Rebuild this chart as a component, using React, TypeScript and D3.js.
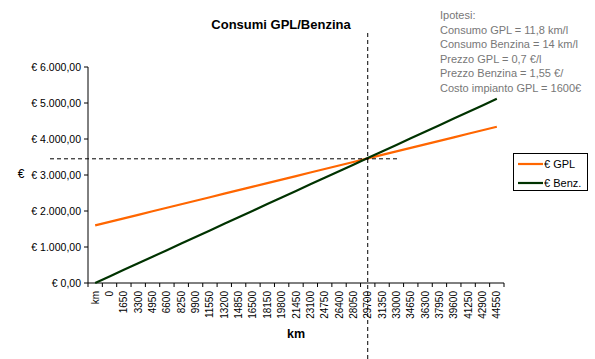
import React from "react";
import * as d3 from "d3";

const W = 595;
const H = 359;

const categories: string[] = [
  "km", "0", "1650", "3300", "4950", "6600", "8250", "9900", "11550", "13200",
  "14850", "16500", "18150", "19800", "21450", "23100", "24750", "26400", "28050",
  "29700", "31350", "33000", "34650", "36300", "37950", "39600", "41250", "42900", "44550",
];

const gplValues: number[] = [
  1600, 1698, 1796, 1894, 1992, 2089, 2187, 2285, 2383, 2481,
  2579, 2677, 2775, 2872, 2970, 3068, 3166, 3264, 3362, 3460,
  3558, 3655, 3753, 3851, 3949, 4047, 4145, 4243, 4341,
];

const benzValues: number[] = [
  0, 183, 365, 548, 731, 913, 1096, 1279, 1461, 1644,
  1827, 2009, 2192, 2375, 2557, 2740, 2923, 3106, 3288, 3471,
  3654, 3836, 4019, 4202, 4384, 4567, 4750, 4932, 5115,
];

const yTicks: number[] = [0, 1000, 2000, 3000, 4000, 5000, 6000];

const breakEvenCategory = "29700";
const breakEvenValue = 3450;

const notes: string[] = [
  "Ipotesi:",
  "Consumo GPL = 11,8 km/l",
  "Consumo Benzina = 14 km/l",
  "Prezzo GPL = 0,7 €/l",
  "Prezzo Benzina = 1,55 €/",
  "Costo impianto GPL = 1600€",
];

const series = [
  { name: "€ GPL", values: gplValues, color: "#FF6600" },
  { name: "€ Benz.", values: benzValues, color: "#003300" },
];

const fmt = (v: number) => {
  const s = v.toFixed(2).replace(".", ",");
  const [int, dec] = s.split(",");
  const withDots = int.replace(/\B(?=(\d{3})+(?!\d))/g, ".");
  return "€ " + withDots + "," + dec;
};

export default function App() {
  const x = d3.scaleBand<string>().domain(categories).range([88, 504]).padding(0);
  const y = d3.scaleLinear().domain([0, 6000]).range([283, 67]);
  const cx = (i: number) => (x(categories[i]) as number) + x.bandwidth() / 2;

  const line = (vals: number[]) =>
    d3
      .line<number>()
      .x((_, i) => cx(i))
      .y((d) => y(d))(vals) as string;

  const font = "'Liberation Sans', Arial, sans-serif";
  const beX = (x(breakEvenCategory) as number) + x.bandwidth() / 2;
  const beY = y(breakEvenValue);

  return (
    <svg
      width={W}
      height={H}
      style={{ position: "absolute", left: 0, top: 0, background: "#fff" }}
      fontFamily={font}
    >
      <rect x={0} y={0} width={W} height={H} fill="#fff" />
      <text x={281} y={29} textAnchor="middle" fontSize={13} fontWeight="bold" fill="#000">
        Consumi GPL/Benzina
      </text>

      {notes.map((t, i) => (
        <text key={i} x={440} y={19 + i * 14.6} fontSize={11} fill="#777">
          {t}
        </text>
      ))}

      {/* y axis */}
      <line x1={88} x2={88} y1={y(6000)} y2={283} stroke="#000" />
      {yTicks.map((t) => (
        <g key={t}>
          <line x1={84} x2={88} y1={y(t)} y2={y(t)} stroke="#000" />
          <text x={81} y={y(t)} dy="0.35em" textAnchor="end" fontSize={10.5} fill="#000">
            {fmt(t)}
          </text>
        </g>
      ))}
      <text x={21} y={174} dy="0.35em" textAnchor="middle" fontSize={12} fill="#000">
        €
      </text>

      {/* x axis */}
      <line x1={88} x2={504} y1={283} y2={283} stroke="#000" />
      {categories.map((c, i) => (
        <line
          key={"t" + i}
          x1={x(c) as number}
          x2={x(c) as number}
          y1={283}
          y2={287}
          stroke="#000"
        />
      ))}
      <line x1={504} x2={504} y1={283} y2={287} stroke="#000" />
      {categories.map((c, i) => (
        <text
          key={"l" + i}
          transform={`translate(${cx(i) + 3.5},291) rotate(-90)`}
          textAnchor="end"
          fontSize={10}
          fill="#000"
        >
          {c}
        </text>
      ))}
      <text x={296} y={338} textAnchor="middle" fontSize={12.5} fontWeight="bold" fill="#000">
        km
      </text>

      {/* series */}
      {series.map((s) => (
        <path key={s.name} d={line(s.values)} fill="none" stroke={s.color} strokeWidth={2.2} />
      ))}

      {/* break-even guides */}
      <line x1={50} x2={400} y1={beY} y2={beY} stroke="#000" strokeDasharray="4,3" />
      <line x1={beX} x2={beX} y1={33} y2={H} stroke="#000" strokeDasharray="4,3" />

      {/* legend */}
      <rect x={513.5} y={153.5} width={74} height={37} fill="#fff" stroke="#000" />
      {series.map((s, i) => (
        <g key={"lg" + i}>
          <line x1={518} x2={543} y1={164 + i * 19} y2={164 + i * 19} stroke={s.color} strokeWidth={2.2} />
          <text x={544} y={164 + i * 19} dy="0.35em" fontSize={11} fill="#000">
            {s.name}
          </text>
        </g>
      ))}
    </svg>
  );
}
